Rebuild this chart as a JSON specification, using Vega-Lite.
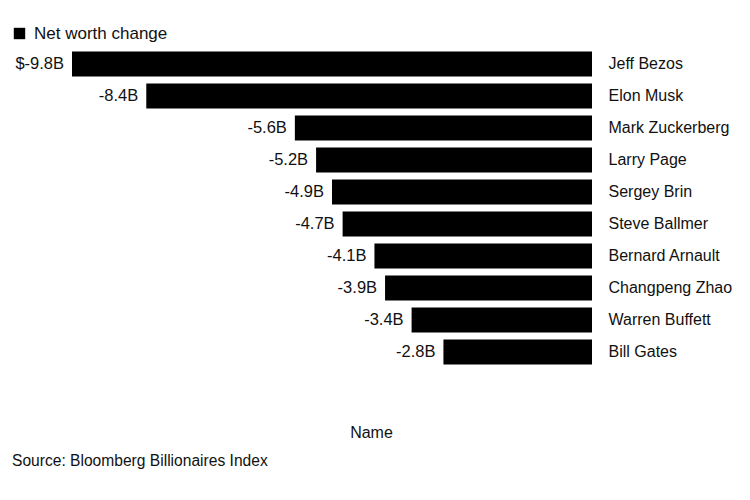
{
  "$schema": "https://vega.github.io/schema/vega-lite/v6.json",
  "width": 520,
  "height": 320,
  "autosize": {"type": "none"},
  "padding": {"left": 72, "top": 48, "right": 158, "bottom": 132},
  "background": "white",
  "title": {
    "text": "Source: Bloomberg Billionaires Index",
    "orient": "bottom",
    "anchor": "start",
    "frame": "group",
    "dx": -60,
    "offset": 14,
    "font": "Liberation Sans",
    "fontSize": 15.6,
    "fontWeight": "normal",
    "color": "#111"
  },
  "data": {
    "values": [
      {"Name": "Jeff Bezos", "change": -9.8, "label": "$-9.8B"},
      {"Name": "Elon Musk", "change": -8.4, "label": "-8.4B"},
      {"Name": "Mark Zuckerberg", "change": -5.6, "label": "-5.6B"},
      {"Name": "Larry Page", "change": -5.2, "label": "-5.2B"},
      {"Name": "Sergey Brin", "change": -4.9, "label": "-4.9B"},
      {"Name": "Steve Ballmer", "change": -4.7, "label": "-4.7B"},
      {"Name": "Bernard Arnault", "change": -4.1, "label": "-4.1B"},
      {"Name": "Changpeng Zhao", "change": -3.9, "label": "-3.9B"},
      {"Name": "Warren Buffett", "change": -3.4, "label": "-3.4B"},
      {"Name": "Bill Gates", "change": -2.8, "label": "-2.8B"}
    ]
  },
  "encoding": {
    "y": {
      "field": "Name",
      "type": "nominal",
      "sort": null,
      "scale": {"paddingInner": 0.22, "paddingOuter": 0.11},
      "axis": {
        "orient": "right",
        "title": null,
        "ticks": false,
        "domain": false,
        "labelPadding": 16,
        "labelFont": "Liberation Sans",
        "labelFontSize": 16,
        "labelColor": "#111",
        "labelLimit": 200
      }
    },
    "x": {
      "field": "change",
      "type": "quantitative",
      "scale": {"domain": [-9.8, 0], "nice": false, "zero": true},
      "axis": {
        "title": "Name",
        "labels": false,
        "ticks": false,
        "domain": false,
        "grid": false,
        "titleFont": "Liberation Sans",
        "titleFontSize": 16,
        "titleFontWeight": "normal",
        "titleColor": "#111",
        "titleX": 299,
        "titleY": 64,
        "titleBaseline": "middle",
        "titleAlign": "center"
      }
    }
  },
  "layer": [
    {
      "mark": {"type": "bar", "color": "#000"},
      "encoding": {
        "color": {
          "datum": "Net worth change",
          "type": "nominal",
          "scale": {"range": ["#000"]},
          "legend": {
            "title": null,
            "orient": "none",
            "legendX": -61,
            "legendY": -23,
            "padding": 0,
            "symbolType": "square",
            "symbolSize": 130,
            "symbolStrokeWidth": 0,
            "labelFont": "Liberation Sans",
            "labelFontSize": 17,
            "labelColor": "#111",
            "labelOffset": 6
          }
        }
      }
    },
    {
      "mark": {
        "type": "text",
        "align": "right",
        "baseline": "middle",
        "dx": -8,
        "font": "Liberation Sans",
        "fontSize": 16.5,
        "color": "#111"
      },
      "encoding": {"text": {"field": "label"}}
    }
  ],
  "config": {"view": {"stroke": null}}
}
